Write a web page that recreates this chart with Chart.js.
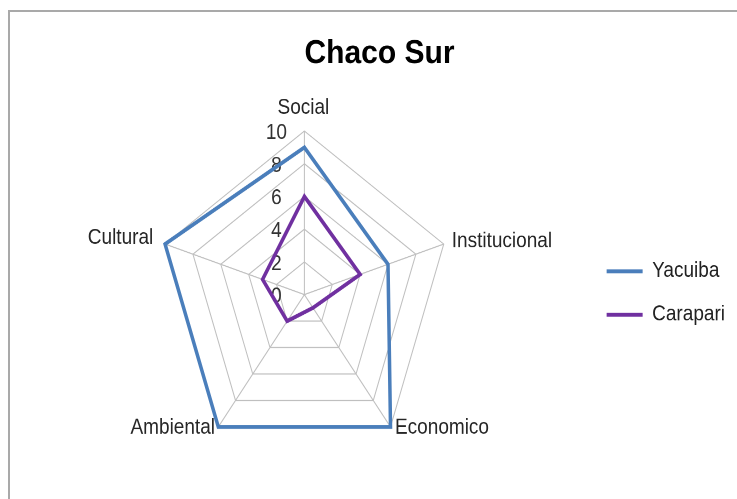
<!DOCTYPE html>
<html><head><meta charset="utf-8">
<script src="https://cdn.jsdelivr.net/npm/chart.js@4/dist/chart.umd.min.js"></script>
<style>
html,body{margin:0;padding:0;background:#fff;overflow:hidden;width:737px;height:499px;}
#frame{position:absolute;left:8px;top:10px;width:780px;height:540px;border-left:2px solid #a9a9a9;border-top:2px solid #a9a9a9;}
#wrap{position:absolute;left:0;top:0;width:737px;height:447px;transform:scaleY(1.11633);transform-origin:0 0;}
canvas{display:block;}
</style></head><body>
<div id="frame"></div>
<div id="wrap"><canvas id="c" width="737" height="447"></canvas></div>
<script>
// ---- data ----
const TITLE = 'Chaco Sur';
const categories = ['Social', 'Institucional', 'Economico', 'Ambiental', 'Cultural'];
const seriesNames = ['Yacuiba', 'Carapari'];
const yacuiba = [9, 6, 10, 10, 10];
const carapari = [6, 4, 1, 2, 3];
const tickLabels = ['0', '2', '4', '6', '8', '10'];
const scaleMin = 0, scaleMax = 10, scaleStep = 2;

// ---- layout / style ----
const FONT = "'Liberation Sans', Arial, sans-serif";
const CENTER_X = 304.4, CENTER_Y = 263.9, RADIUS = 146.5;
const TICK_SHIFT_X = -28, TICK_SHIFT_Y = 2;
const LABEL_SIZE = 19;
// offsets of each category label's text centre line from its axis tip
const LABEL_PLACE = [[-1, -20.6, 'center'], [8, -2.6, 'left'], [4.5, 1, 'left'], [-3.3, 1, 'right'], [-11.8, -5.3, 'right']];

Chart.defaults.font.family = FONT;

class OffsetRadialScale extends Chart.RadialLinearScale {
  drawLabels() {
    const ctx = this.ctx;
    ctx.save();
    ctx.translate(TICK_SHIFT_X, TICK_SHIFT_Y);
    super.drawLabels();
    ctx.restore();
  }
}
OffsetRadialScale.id = 'offsetRadial';
Chart.register(OffsetRadialScale);

function placeScale(scale) {
  scale.xCenter = CENTER_X;
  scale.yCenter = CENTER_Y;
  scale.drawingArea = RADIUS;
  const lh = LABEL_SIZE * 1.2;
  (scale._pointLabelItems || []).forEach((it, i) => {
    const tip = scale.getPointPosition(i, scale.drawingArea);
    const [dx, dy, align] = LABEL_PLACE[i];
    const w = it.right - it.left;
    it.x = tip.x + dx;
    it.y = tip.y + dy - lh / 2;
    it.textAlign = align;
    it.left = align === 'left' ? it.x : align === 'right' ? it.x - w : it.x - w / 2;
    it.right = it.left + w;
    it.top = it.y;
    it.bottom = it.y + lh;
  });
}

new Chart(document.getElementById('c'), {
  type: 'radar',
  data: {
    labels: categories,
    datasets: [
      { label: seriesNames[0], data: yacuiba, borderColor: '#4A7EBB', backgroundColor: '#4A7EBB', borderWidth: 3.5, fill: false, pointRadius: 0, tension: 0 },
      { label: seriesNames[1], data: carapari, borderColor: '#7030A0', backgroundColor: '#7030A0', borderWidth: 3.5, fill: false, pointRadius: 0, tension: 0 }
    ]
  },
  options: {
    responsive: false,
    animation: false,
    devicePixelRatio: 2,
    layout: { padding: { left: 24, right: 2, top: 0, bottom: 0 } },
    plugins: {
      title: { display: true, text: TITLE, color: '#000', font: { size: 30, weight: 'bold', family: FONT }, padding: { top: 30, bottom: 12 } },
      legend: {
        position: 'right',
        fullSize: false,
        labels: { usePointStyle: true, pointStyle: 'line', pointStyleWidth: 36, padding: 20, color: '#222', font: { size: LABEL_SIZE, family: FONT } }
      },
      tooltip: { enabled: false }
    },
    scales: {
      r: {
        type: 'offsetRadial',
        min: scaleMin - 0.0001,
        max: scaleMax,
        ticks: { stepSize: scaleStep, showLabelBackdrop: false, color: '#333', font: { size: LABEL_SIZE, family: FONT }, callback: (v, i) => tickLabels[i] },
        grid: { color: '#BFBFBF', lineWidth: 1 },
        angleLines: { color: '#BFBFBF', lineWidth: 1 },
        pointLabels: { color: '#262626', padding: 0, font: { size: LABEL_SIZE, family: FONT } },
        afterFit: placeScale
      }
    }
  }
});
</script>
</body></html>
